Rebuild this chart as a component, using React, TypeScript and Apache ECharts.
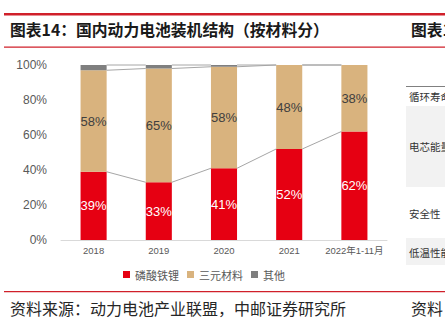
import React, { useEffect, useRef } from "react";
import * as echarts from "echarts";

const categories = ["2018", "2019", "2020", "2021", "2022年1-11月"];
const lfp = [39, 33, 41, 52, 62];
const ternary = [58, 65, 58, 48, 38];
const others = [3, 2, 1, 0, 0];
const yTicks = [0, 20, 40, 60, 80, 100];
const seriesNames = ["磷酸铁锂", "三元材料", "其他"];
const titleText = "图表14：国内动力电池装机结构（按材料分）";
const sourceText = "资料来源：动力电池产业联盟，中邮证券研究所";
const sideTexts = ["循环寿命", "电芯能量", "安全性", "低温性能"];

const RED = "#E60012";
const TAN = "#D9B37E";
const GRAY = "#7F7F7F";
const FONT = "'Liberation Sans', 'Noto Sans CJK SC', sans-serif";
const CJK = "'Noto Sans CJK SC', sans-serif";

export default function App() {
  const ref = useRef<HTMLDivElement>(null);
  useEffect(() => {
    if (!ref.current) return;
    const chart = echarts.init(ref.current, null, { renderer: "svg" });
    const lvl1 = lfp;
    const lvl2 = lfp.map((v, i) => v + ternary[i]);
    const lvl3 = lvl2.map((v, i) => v + others[i]);
    const levels = [lvl1, lvl2, lvl3];
    const pairs = categories.slice(0, -1).map((_, i) => [i, 0]);
    chart.setOption({
      animation: false,
      grid: { left: 61, right: 58, top: 65, bottom: 84, containLabel: false },
      xAxis: {
        type: "category",
        data: categories,
        axisLine: { lineStyle: { color: "#D9D9D9", width: 1 } },
        axisTick: { show: false },
        axisLabel: { color: "#595959", fontSize: 9.5, margin: 6, fontFamily: FONT, interval: 0 },
      },
      yAxis: {
        type: "value",
        min: yTicks[0],
        max: yTicks[yTicks.length - 1],
        interval: 20,
        axisLine: { show: false },
        axisTick: { show: false },
        splitLine: { show: false },
        axisLabel: { color: "#595959", fontSize: 12, margin: 14, formatter: "{value}%", fontFamily: FONT },
      },
      legend: {
        data: seriesNames,
        left: 118,
        top: 264,
        icon: "rect",
        itemWidth: 7,
        itemHeight: 7,
        itemGap: 8,
        textStyle: { color: "#595959", fontSize: 11, fontFamily: CJK },
      },
      series: [
        {
          name: seriesNames[0],
          type: "bar",
          stack: "total",
          barWidth: "40%",
          data: lfp,
          itemStyle: { color: RED },
          label: { show: true, position: "inside", color: "#FFFFFF", fontSize: 13, formatter: "{c}%", fontFamily: FONT },
        },
        {
          name: seriesNames[1],
          type: "bar",
          stack: "total",
          barWidth: "40%",
          data: ternary,
          itemStyle: { color: TAN },
          label: { show: true, position: "inside", color: "#404040", fontSize: 13, formatter: "{c}%", fontFamily: FONT },
        },
        {
          name: seriesNames[2],
          type: "bar",
          stack: "total",
          barWidth: "40%",
          data: others,
          itemStyle: { color: GRAY },
        },
        {
          type: "custom",
          z: 5,
          silent: true,
          data: pairs,
          renderItem: (params: any, api: any) => {
            const i = api.value(0);
            const bw = api.size([1, 0])[0];
            const half = bw * 0.2;
            const children = levels.map((lv) => {
              const p0 = api.coord([i, lv[i]]);
              const p1 = api.coord([i + 1, lv[i + 1]]);
              return {
                type: "line",
                shape: { x1: p0[0] + half, y1: p0[1], x2: p1[0] - half, y2: p1[1] },
                style: { stroke: "#A6A6A6", lineWidth: 1 },
              };
            });
            return { type: "group", children };
          },
        },
      ],
      graphic: [
        { type: "rect", shape: { x: 4, y: 13, width: 441, height: 2.5 }, style: { fill: "#D0202A" } },
        { type: "rect", shape: { x: 4, y: 46.5, width: 441, height: 1.2 }, style: { fill: "#D0202A" } },
        { type: "rect", shape: { x: 4, y: 291, width: 441, height: 1.2 }, style: { fill: "#D0202A" } },
        {
          type: "text",
          x: 10,
          y: 29,
          style: { text: titleText, fontSize: 15.8, fontWeight: "bold", fill: "#1a1a1a", fontFamily: CJK, verticalAlign: "middle" },
        },
        {
          type: "text",
          x: 411,
          y: 29,
          style: { text: "图表1", fontSize: 15.8, fontWeight: "bold", fill: "#1a1a1a", fontFamily: CJK, verticalAlign: "middle" },
        },
        {
          type: "text",
          x: 10,
          y: 308,
          style: { text: sourceText, fontSize: 16, fill: "#262626", fontFamily: CJK, verticalAlign: "middle" },
        },
        {
          type: "text",
          x: 411,
          y: 308,
          style: { text: "资料", fontSize: 16, fill: "#262626", fontFamily: CJK, verticalAlign: "middle" },
        },
        { type: "rect", shape: { x: 406, y: 86, width: 39, height: 1 }, style: { fill: "#808080" } },
        { type: "rect", shape: { x: 406, y: 106, width: 39, height: 81 }, style: { fill: "#F2F2F2" } },
        { type: "rect", shape: { x: 406, y: 238, width: 39, height: 27 }, style: { fill: "#F2F2F2" } },
        { type: "text", x: 409, y: 96, style: { text: sideTexts[0], fontSize: 10.5, fill: "#333", fontFamily: CJK, verticalAlign: "middle" } },
        { type: "text", x: 409, y: 146, style: { text: sideTexts[1], fontSize: 10.5, fill: "#333", fontFamily: CJK, verticalAlign: "middle" } },
        { type: "text", x: 409, y: 213, style: { text: sideTexts[2], fontSize: 10.5, fill: "#333", fontFamily: CJK, verticalAlign: "middle" } },
        { type: "text", x: 409, y: 252, style: { text: sideTexts[3], fontSize: 10.5, fill: "#333", fontFamily: CJK, verticalAlign: "middle" } },
      ],
    });
    return () => chart.dispose();
  }, []);
  return (
    <div
      ref={ref}
      style={{ position: "fixed", left: 0, top: 0, width: 445, height: 324, background: "#fff", overflow: "hidden" }}
    />
  );
}
